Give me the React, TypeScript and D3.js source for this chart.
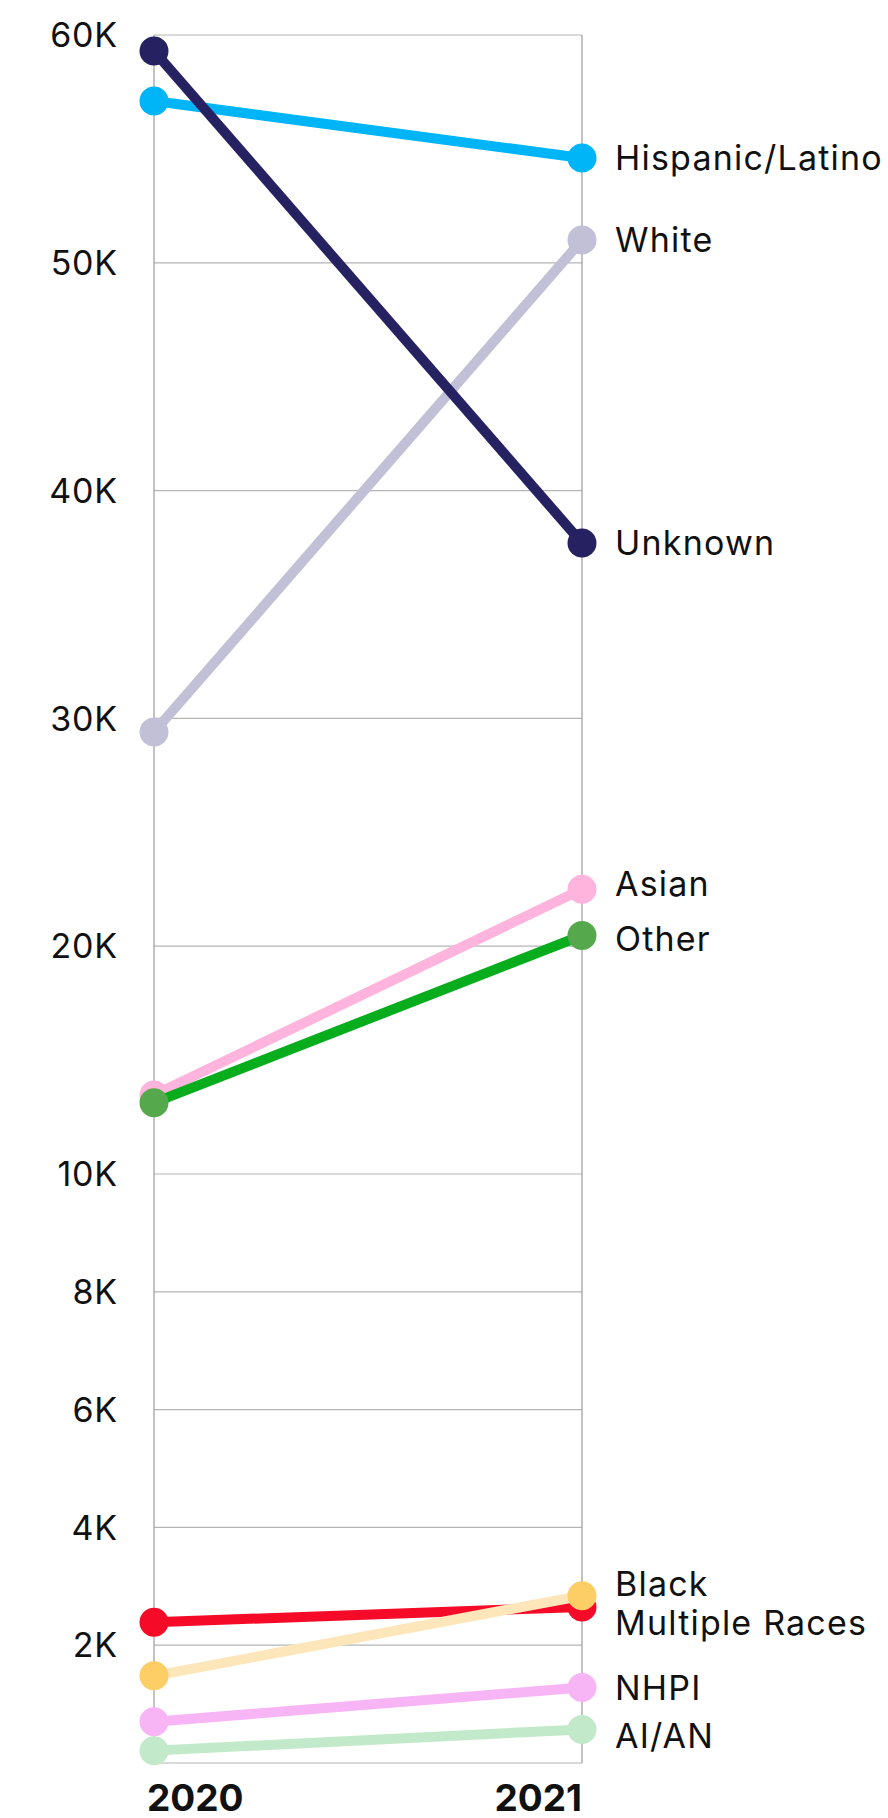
import React from "react"
import * as d3 from "d3"

const years = ["2020", "2021"]
const groups = ["Asian", "Other", "White", "Hispanic/Latino", "Unknown", "Multiple Races", "Black", "NHPI", "AI/AN"]
const v2020 = [13470, 13130, 29400, 57100, 59300, 2390, 1480, 700, 210]
const v2021 = [22500, 20470, 51000, 54600, 37700, 2650, 2840, 1280, 570]
const yTicks = [0, 2000, 4000, 6000, 8000, 10000, 20000, 30000, 40000, 50000, 60000]

const lineColor: Record<string, string> = {
  "Asian": "#ffb4dd",
  "Other": "#08ad1e",
  "White": "#c1c0d6",
  "Hispanic/Latino": "#00b5f7",
  "Unknown": "#262262",
  "Multiple Races": "#f50a27",
  "Black": "#fde6b9",
  "NHPI": "#f7b5f6",
  "AI/AN": "#c3e9cb",
}
const dotColor: Record<string, string> = {
  ...lineColor,
  "Other": "#56a84c",
  "Black": "#fdcd66",
}
// small nudges so the right-hand labels don't collide
const labelShift: Record<string, number> = {
  "Asian": -5,
  "Other": 3,
  "Black": -12,
  "Multiple Races": 16,
  "AI/AN": 6,
}

const W = 888
const H = 1818
const FONT = "Inter, 'Noto Sans', sans-serif"

export default function App() {
  const x = d3.scalePoint<string>().domain(years).range([154, 582])
  // broken scale: 0-10K stretched, 10K-60K compressed
  const y = d3.scaleLinear().domain([0, 10000, 60000]).range([1763, 1174, 35])
  const x0 = x("2020") as number
  const x1 = x("2021") as number
  const fmt = (v: number) => `${v / 1000}K`

  const line = d3.line<[string, number]>()
    .x(d => x(d[0]) as number)
    .y(d => y(d[1]))

  return (
    <svg width={W} height={H} style={{ position: "absolute", left: 0, top: 0 }} fontFamily={FONT}>
      <g>
        {yTicks.map(t => (
          <line key={t} x1={x0} x2={x1} y1={y(t)} y2={y(t)} stroke="#b5b5b5" strokeWidth={1.2} />
        ))}
        {years.map(yr => (
          <line key={yr} x1={x(yr)} x2={x(yr)} y1={y(60000)} y2={y(0)} stroke="#9a9a9a" strokeWidth={1.2} />
        ))}
      </g>
      <g fontSize={34} fill="#111" textAnchor="end" letterSpacing={0.8}>
        {yTicks.filter(t => t > 0).map(t => (
          <text key={t} x={x0 - 36} y={y(t)} dy="0.36em">{fmt(t)}</text>
        ))}
      </g>
      <g>
        {groups.map((g, i) => {
          const pts: [string, number][] = [["2020", v2020[i]], ["2021", v2021[i]]]
          return (
            <g key={g}>
              <path d={line(pts) || ""} stroke={lineColor[g]} strokeWidth={10} fill="none" />
              {pts.map(p => (
                <circle key={p[0]} cx={x(p[0])} cy={y(p[1])} r={14.5} fill={dotColor[g]} />
              ))}
            </g>
          )
        })}
      </g>
      <g fontSize={34} fill="#111" letterSpacing={1.2}>
        {groups.map((g, i) => (
          <text key={g} x={x1 + 33} y={y(v2021[i]) + (labelShift[g] || 0)} dy="0.36em">{g}</text>
        ))}
      </g>
      <g fontSize={37} fontWeight={700} fill="#111">
        <text x={x0 - 7} y={1811}>{years[0]}</text>
        <text x={x1} y={1811} textAnchor="end">{years[1]}</text>
      </g>
    </svg>
  )
}
